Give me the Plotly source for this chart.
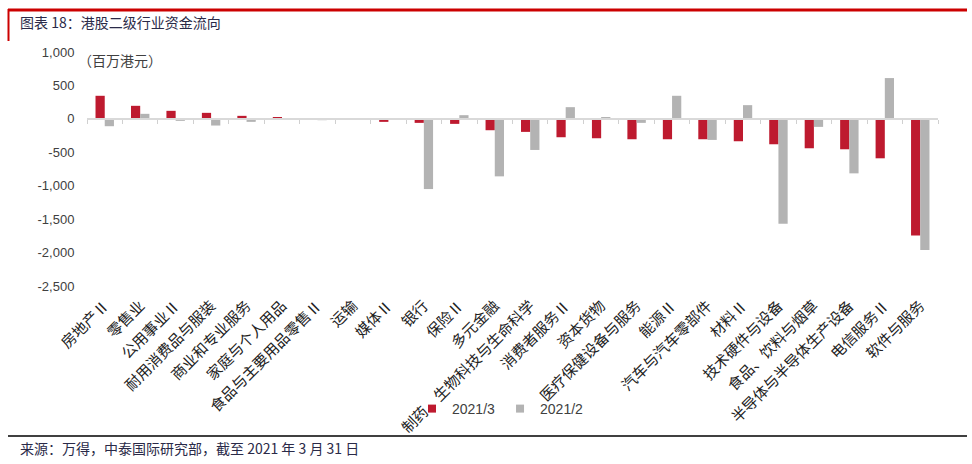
import plotly.graph_objects as go

categories = ["房地产Ⅱ", "零售业", "公用事业Ⅱ", "耐用消费品与服装", "商业和专业服务", "家庭与个人用品",
              "食品与主要用品零售Ⅱ", "运输", "媒体Ⅱ", "银行", "保险Ⅱ", "多元金融",
              "制药、生物科技与生命科学", "消费者服务Ⅱ", "资本货物", "医疗保健设备与服务", "能源Ⅱ",
              "汽车与汽车零部件", "材料Ⅱ", "技术硬件与设备", "食品、饮料与烟草",
              "半导体与半导体生产设备", "电信服务Ⅱ", "软件与服务"]
mar_2021 = [345, 195, 120, 90, 45, 25, 5, 3, -45, -60, -75, -170, -195, -275, -290, -305, -305,
            -305, -335, -380, -440, -455, -590, -1745]
feb_2021 = [-110, 75, -30, -100, -45, -5, -20, -15, -5, -1050, 55, -860, -465, 175, 25, -60, 345,
            -315, 205, -1570, -120, -815, 610, -1960]
y_ticks = [1000, 500, 0, -500, -1000, -1500, -2000, -2500]
y_tick_text = ["1,000", "500", "0", "-500", "-1,000", "-1,500", "-2,000", "-2,500"]

W, H = 972, 464
L, R, T, B = 87, 938, 52, 286
Y_MIN, Y_MAX = -2500, 1000


def px(x):
    return (x - L) / (R - L)


def py(y):
    return (B - y) / (B - T)


idx = list(range(len(categories)))
red = "#be1a2f"
gray = "#b3b3b3"

fig = go.Figure()
fig.add_trace(go.Bar(x=idx, y=mar_2021, marker_color=red, marker_line_width=0,
                     name="2021/3", showlegend=False))
fig.add_trace(go.Bar(x=idx, y=feb_2021, marker_color=gray, marker_line_width=0,
                     name="2021/2", showlegend=False))
# legend proxies
fig.add_trace(go.Scatter(x=[None], y=[None], mode="markers",
                         marker=dict(symbol="square", size=8, color=red), name="2021/3"))
fig.add_trace(go.Scatter(x=[None], y=[None], mode="markers",
                         marker=dict(symbol="square", size=8, color=gray), name="2021/2"))
# zero-line axis carrier
fig.add_trace(go.Scatter(x=[None], y=[None], xaxis="x2", showlegend=False, hoverinfo="skip"))

zero_frac = (0 - Y_MIN) / (Y_MAX - Y_MIN)
bounds = [i - 0.5 for i in range(len(categories) + 1)]

fig.update_layout(
    template="none",
    width=W, height=H,
    margin=dict(l=L, r=W - R, t=T, b=H - B, pad=0, autoexpand=False),
    paper_bgcolor="white", plot_bgcolor="white",
    barmode="group", bargap=0.48, bargroupgap=0,
    font=dict(family="Liberation Sans, Noto Sans CJK SC", size=13, color="#404040"),
    xaxis=dict(range=[-0.5, len(categories) - 0.5], tickmode="array", tickvals=idx,
               ticktext=categories, tickangle=-45, showgrid=False, zeroline=False,
               showline=False, ticks="outside", ticklen=4, tickcolor="rgba(0,0,0,0)",
               automargin=False,
               tickfont=dict(family="Noto Sans CJK SC", size=15, color="#222222")),
    xaxis2=dict(overlaying="x", anchor="free", position=zero_frac,
                range=[-0.5, len(categories) - 0.5], tickmode="array", tickvals=bounds,
                ticks="outside", ticklen=4, tickwidth=1, tickcolor="#d0d0d0",
                showticklabels=False, showgrid=False, zeroline=False, automargin=False,
                showline=True, linecolor="#d9d9d9", linewidth=2, side="bottom"),
    yaxis=dict(range=[Y_MIN, Y_MAX], tickmode="array", tickvals=y_ticks, ticktext=y_tick_text,
               showgrid=False, zeroline=False, showline=False, ticks="outside", ticklen=9,
               automargin=False,
               tickcolor="rgba(0,0,0,0)", tickfont=dict(family="Liberation Sans", size=13,
                                                         color="#404040")),
    legend=dict(orientation="h", x=px(412), y=py(409), xanchor="left", yanchor="middle",
                bgcolor="rgba(255,255,255,0)", font=dict(size=14, family="Liberation Sans",
                                                         color="#404040"),
                itemwidth=30, tracegroupgap=0),
    showlegend=True,
)

shapes = [
    dict(type="line", xref="paper", yref="paper", x0=px(8), x1=px(967), y0=py(10), y1=py(10),
         line=dict(color="#cc0000", width=3)),
    dict(type="line", xref="paper", yref="paper", x0=px(8.5), x1=px(8.5), y0=py(9), y1=py(41),
         line=dict(color="#cc0000", width=2)),
    dict(type="line", xref="paper", yref="paper", x0=px(8), x1=px(967), y0=py(436), y1=py(436),
         line=dict(color="#000000", width=1.5)),
]
fig.update_layout(shapes=shapes)

annotations = [
    dict(text="图表 18：港股二级行业资金流向", xref="paper", yref="paper", x=px(18), y=py(22),
         xanchor="left", yanchor="middle", showarrow=False,
         font=dict(family="Noto Sans CJK SC", size=14, color="#2a2a48")),
    dict(text="（百万港元）", xref="paper", yref="paper", x=px(76), y=py(60),
         xanchor="left", yanchor="middle", showarrow=False,
         font=dict(family="Noto Sans CJK SC", size=14, color="#404040")),
    dict(text="来源：万得，中泰国际研究部，截至 2021 年 3 月 31 日", xref="paper", yref="paper",
         x=px(18), y=py(448), xanchor="left", yanchor="middle", showarrow=False,
         font=dict(family="Noto Sans CJK SC", size=14, color="#2a2a48")),
]
fig.update_layout(annotations=annotations)

fig.write_html("out.html", config={"displayModeBar": False},
               post_script="document.body.style.margin='0';document.body.style.padding='0';")
